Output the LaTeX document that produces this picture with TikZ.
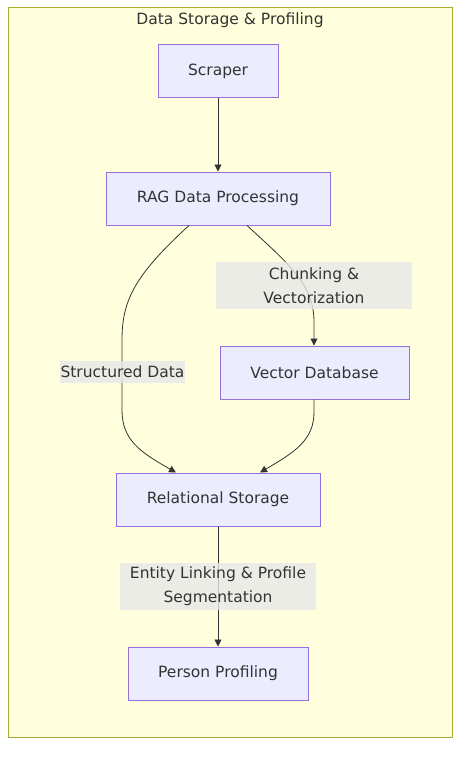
\documentclass[tikz,border=0pt]{standalone}
\usepackage{fontspec}
\setmainfont{DejaVu Sans}
\usetikzlibrary{arrows.meta,positioning,calc}
\definecolor{clusterfill}{HTML}{FFFFDE}
\definecolor{clusterline}{HTML}{AAAA33}
\definecolor{boxfill}{HTML}{ECECFF}
\definecolor{boxline}{HTML}{9370DB}
\definecolor{labelfill}{HTML}{E8E8E8}
\definecolor{inktext}{HTML}{333333}
\begin{document}
\begin{tikzpicture}[x=1pt,y=-1pt,
    font=\fontsize{15.5}{24}\selectfont,
    stepbox/.style={draw=boxline,fill=boxfill,line width=1pt,text=inktext,
      minimum height=53pt,inner sep=0pt},
    edgelabel/.style={fill=labelfill,fill opacity=0.8,text opacity=1,text=inktext,
      align=center,inner sep=0pt},
    flow/.style={draw=inktext,line width=0.8pt,-{Triangle[length=7pt,width=7pt]}}]
  \useasboundingbox (0,0) rectangle (468,757);
  \fill[white] (0,0) rectangle (468,757);
  % cluster
  \draw[fill=clusterfill,draw=clusterline,line width=1pt] (8,8) rectangle (452,737);
  \node[text=inktext] (title) at (230,20) {Data Storage \& Profiling};
  % nodes
  \node[stepbox,minimum width=120pt] (scraper) at (218,71.5) {Scraper};
  \node[stepbox,minimum width=224pt] (rag) at (218,198.5) {RAG Data Processing};
  \node[stepbox,minimum width=189pt] (vector) at (314.5,372.5) {Vector Database};
  \node[stepbox,minimum width=204pt] (relational) at (218,499.5) {Relational Storage};
  \node[stepbox,minimum width=180pt] (person) at (218,673.5) {Person Profiling};
  % edges
  \draw[flow] (scraper) -- (rag);
  \draw[flow] ([xshift=-29pt]rag.south) .. controls (135,275) and (122,300) .. (122,340)
    -- (122,410) .. controls (122,440) and (140,452) .. ([xshift=-42pt]relational.north);
  \draw[flow] ([xshift=29pt]rag.south) .. controls (290,265) and (314,285) .. (314,322)
    -- ([xshift=-0.5pt]vector.north);
  \draw[flow] ([xshift=-0.5pt]vector.south) -- (314,412) .. controls (314,440) and (295,452)
    .. ([xshift=42pt]relational.north);
  \draw[flow] (relational) -- (person);
  % edge labels
  \node[edgelabel,minimum width=196pt,minimum height=47pt] (chunk) at (314,285.5)
    {Chunking \&\\Vectorization};
  \node[edgelabel,minimum width=125pt,minimum height=22pt] (structured) at (122.5,372)
    {Structured Data};
  \node[edgelabel,minimum width=196pt,minimum height=47pt] (entity) at (218,586.5)
    {Entity Linking \& Profile\\Segmentation};
\end{tikzpicture}
\end{document}
